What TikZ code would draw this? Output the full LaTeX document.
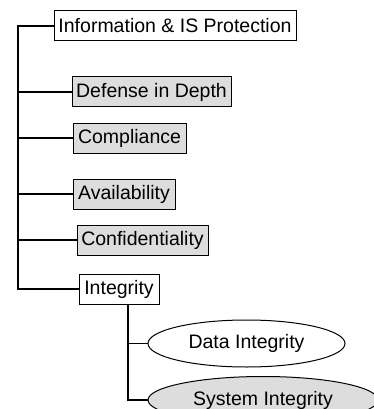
\documentclass[tikz,border=0pt]{standalone}
\usepackage{fontspec}
\setmainfont{Liberation Sans}
\usetikzlibrary{shapes.geometric}
\definecolor{boxgray}{HTML}{DDDDDD}
\begin{document}
\begin{tikzpicture}[x=1pt,y=-1pt,
  every node/.style={font=\fontsize{19.5}{23}\selectfont, inner sep=0pt, minimum height=30},
  plainbox/.style={draw=black, line width=1pt, fill=white},
  graybox/.style={draw=black, line width=1pt, fill=boxgray},
  oval/.style={ellipse, draw=black, line width=1pt, minimum height=47},
  conn/.style={draw=black, line width=1.4pt}]
\useasboundingbox (0,0) rectangle (374,409);
\node[plainbox, minimum width=242] (root) at (175,26) {Information \& IS Protection};
\node[graybox, minimum width=159] (did) at (151.5,92) {Defense in Depth};
\node[graybox, minimum width=113] (comp) at (129.5,138) {Compliance};
\node[graybox, minimum width=102] (avail) at (124,194) {Availability};
\node[graybox, minimum width=131] (conf) at (142.5,240) {Confidentiality};
\node[plainbox, minimum width=80] (integ) at (119,289) {Integrity};
\node[oval, fill=white, minimum width=197] (data) at (246.5,343.5) {Data Integrity};
\node[oval, fill=boxgray, minimum width=230] (sys) at (263,400) {System Integrity};
\coordinate (trunk) at (18,26);
\draw[conn] (root.west) -- (trunk) |- (did.west);
\draw[conn] (trunk) |- (comp.west);
\draw[conn] (trunk) |- (avail.west);
\draw[conn] (trunk) |- (conf.west);
\draw[conn] (trunk) |- (integ.west);
\draw[conn] ([xshift=9pt]integ.south) |- (data.west);
\draw[conn] ([xshift=9pt]integ.south) |- (sys.west);
\end{tikzpicture}
\end{document}
